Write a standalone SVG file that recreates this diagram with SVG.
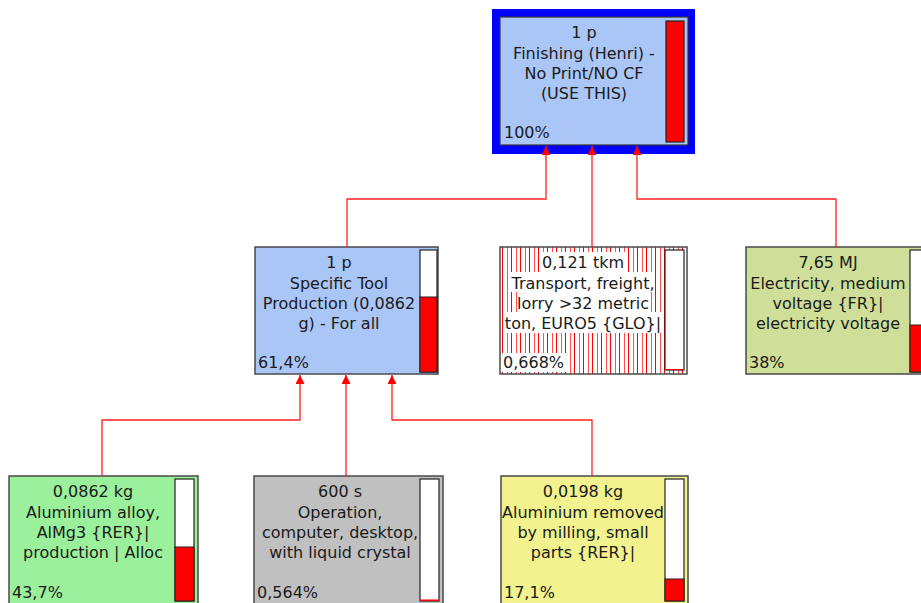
<svg xmlns="http://www.w3.org/2000/svg" width="921" height="603" viewBox="0 0 921 603">
<defs>
<style>
text{font-family:"DejaVu Sans","Liberation Sans",sans-serif;font-size:16px;fill:#1a1a1a}
.c{text-anchor:middle}
.box{stroke:#4a4a4a;stroke-width:1.5}
.bar{fill:#fff;stroke:#222;stroke-width:1.2}
.red{fill:#ff0000}
.conn{fill:none;stroke:#ff2020;stroke-width:1.3}
.wb{fill:#fff}
</style>
<pattern id="hatch" patternUnits="userSpaceOnUse" x="500" y="0" width="9" height="10">
<rect width="9" height="10" fill="#fff"/>
<rect x="2" y="0" width="1" height="10" fill="#ff0000"/>
<rect x="7" y="0" width="1" height="10" fill="#ff5050"/>
</pattern>
<marker id="arr" viewBox="0 0 10 10" refX="10" refY="5" markerWidth="9" markerHeight="9" markerUnits="userSpaceOnUse" orient="auto">
<path d="M0,0 L10,5 L0,10 Z" fill="#ff0000"/>
</marker>
</defs>
<rect width="921" height="603" fill="#fff"/>

<g id="n_finishing">
<rect x="492" y="9" width="203" height="145" fill="#0000ff"/>
<rect x="500" y="17" width="188" height="128" fill="#aac6f7" stroke="#333" stroke-width="1.2"/>
<rect x="666" y="21" width="18" height="121" class="red" stroke="#222" stroke-width="1.2"/>
<text class="c" x="584" y="38">1 p</text>
<text class="c" x="584" y="58.5">Finishing (Henri) -</text>
<text class="c" x="584" y="79">No Print/NO CF</text>
<text class="c" x="584" y="99">(USE THIS)</text>
<text x="504" y="138">100%</text>
</g>

<g id="n_tool">
<rect x="255" y="247" width="183" height="127" fill="#aac6f7" class="box"/>
<rect x="420" y="250" width="17" height="122" class="bar"/>
<rect x="420" y="297" width="17" height="75" class="red" stroke="#222" stroke-width="1"/>
<text class="c" x="339" y="268">1 p</text>
<text class="c" x="339" y="288.5">Specific Tool</text>
<text class="c" x="339" y="309">Production (0,0862</text>
<text class="c" x="339" y="329">g) - For all</text>
<text x="258" y="368">61,4%</text>
</g>

<g id="n_transport">
<rect x="500" y="247" width="187" height="127" fill="url(#hatch)" class="box"/>
<rect class="wb" x="541" y="252" width="85" height="20"/>
<rect class="wb" x="511" y="272" width="143" height="20"/>
<rect class="wb" x="517" y="292" width="134" height="20"/>
<rect class="wb" x="504" y="312" width="159" height="21"/>
<rect class="wb" x="502" y="353" width="64" height="19"/>
<rect x="665" y="250" width="19" height="120" class="bar"/>
<rect x="665" y="369" width="19" height="1" class="red"/>
<text class="c" x="583" y="268">0,121 tkm</text>
<text class="c" x="583" y="288.5">Transport, freight,</text>
<text class="c" x="583" y="309">lorry &gt;32 metric</text>
<text class="c" x="583" y="329">ton, EURO5 {GLO}|</text>
<text x="503" y="368">0,668%</text>
</g>

<g id="n_electricity">
<rect x="746" y="247" width="185" height="127" fill="#cfdf99" class="box"/>
<rect x="910" y="250" width="18" height="122" class="bar"/>
<rect x="910" y="325" width="18" height="47" class="red" stroke="#222" stroke-width="1"/>
<text class="c" x="828" y="268">7,65 MJ</text>
<text class="c" x="828" y="288.5">Electricity, medium</text>
<text class="c" x="828" y="309">voltage {FR}|</text>
<text class="c" x="828" y="329">electricity voltage</text>
<text x="749" y="368">38%</text>
</g>

<g id="n_aluminium">
<rect x="9" y="476" width="189" height="128" fill="#9bf09b" class="box"/>
<rect x="175" y="479" width="19" height="122" class="bar"/>
<rect x="175" y="547" width="19" height="54" class="red" stroke="#222" stroke-width="1"/>
<text class="c" x="93" y="497">0,0862 kg</text>
<text class="c" x="93" y="517.5">Aluminium alloy,</text>
<text class="c" x="93" y="538">AlMg3 {RER}|</text>
<text class="c" x="93" y="558">production | Alloc</text>
<text x="12" y="598">43,7%</text>
</g>

<g id="n_computer">
<rect x="254" y="476" width="189" height="128" fill="#c0c0c0" class="box"/>
<rect x="420" y="479" width="19" height="122" class="bar"/>
<rect x="420" y="599.5" width="19" height="1.5" class="red"/>
<text class="c" x="340" y="497">600 s</text>
<text class="c" x="340" y="517.5">Operation,</text>
<text class="c" x="340" y="538">computer, desktop,</text>
<text class="c" x="340" y="558">with liquid crystal</text>
<text x="257" y="598">0,564%</text>
</g>

<g id="n_milling">
<rect x="501" y="476" width="187" height="128" fill="#f2f28e" class="box"/>
<rect x="665" y="479" width="19" height="122" class="bar"/>
<rect x="665" y="579" width="19" height="22" class="red" stroke="#222" stroke-width="1"/>
<text class="c" x="583" y="497">0,0198 kg</text>
<text class="c" x="583" y="517.5">Aluminium removed</text>
<text class="c" x="583" y="538">by milling, small</text>
<text class="c" x="583" y="558">parts {RER}|</text>
<text x="504" y="598">17,1%</text>
</g>

<g id="connectors">
<path class="conn" d="M347,247 V199 H546 V146" marker-end="url(#arr)"/>
<path class="conn" d="M592,247 V146" marker-end="url(#arr)"/>
<path class="conn" d="M836,247 V199 H637 V146" marker-end="url(#arr)"/>
<path class="conn" d="M102,476 V420 H300 V375" marker-end="url(#arr)"/>
<path class="conn" d="M346,476 V375" marker-end="url(#arr)"/>
<path class="conn" d="M592,476 V420 H392 V375" marker-end="url(#arr)"/>
</g>
</svg>
